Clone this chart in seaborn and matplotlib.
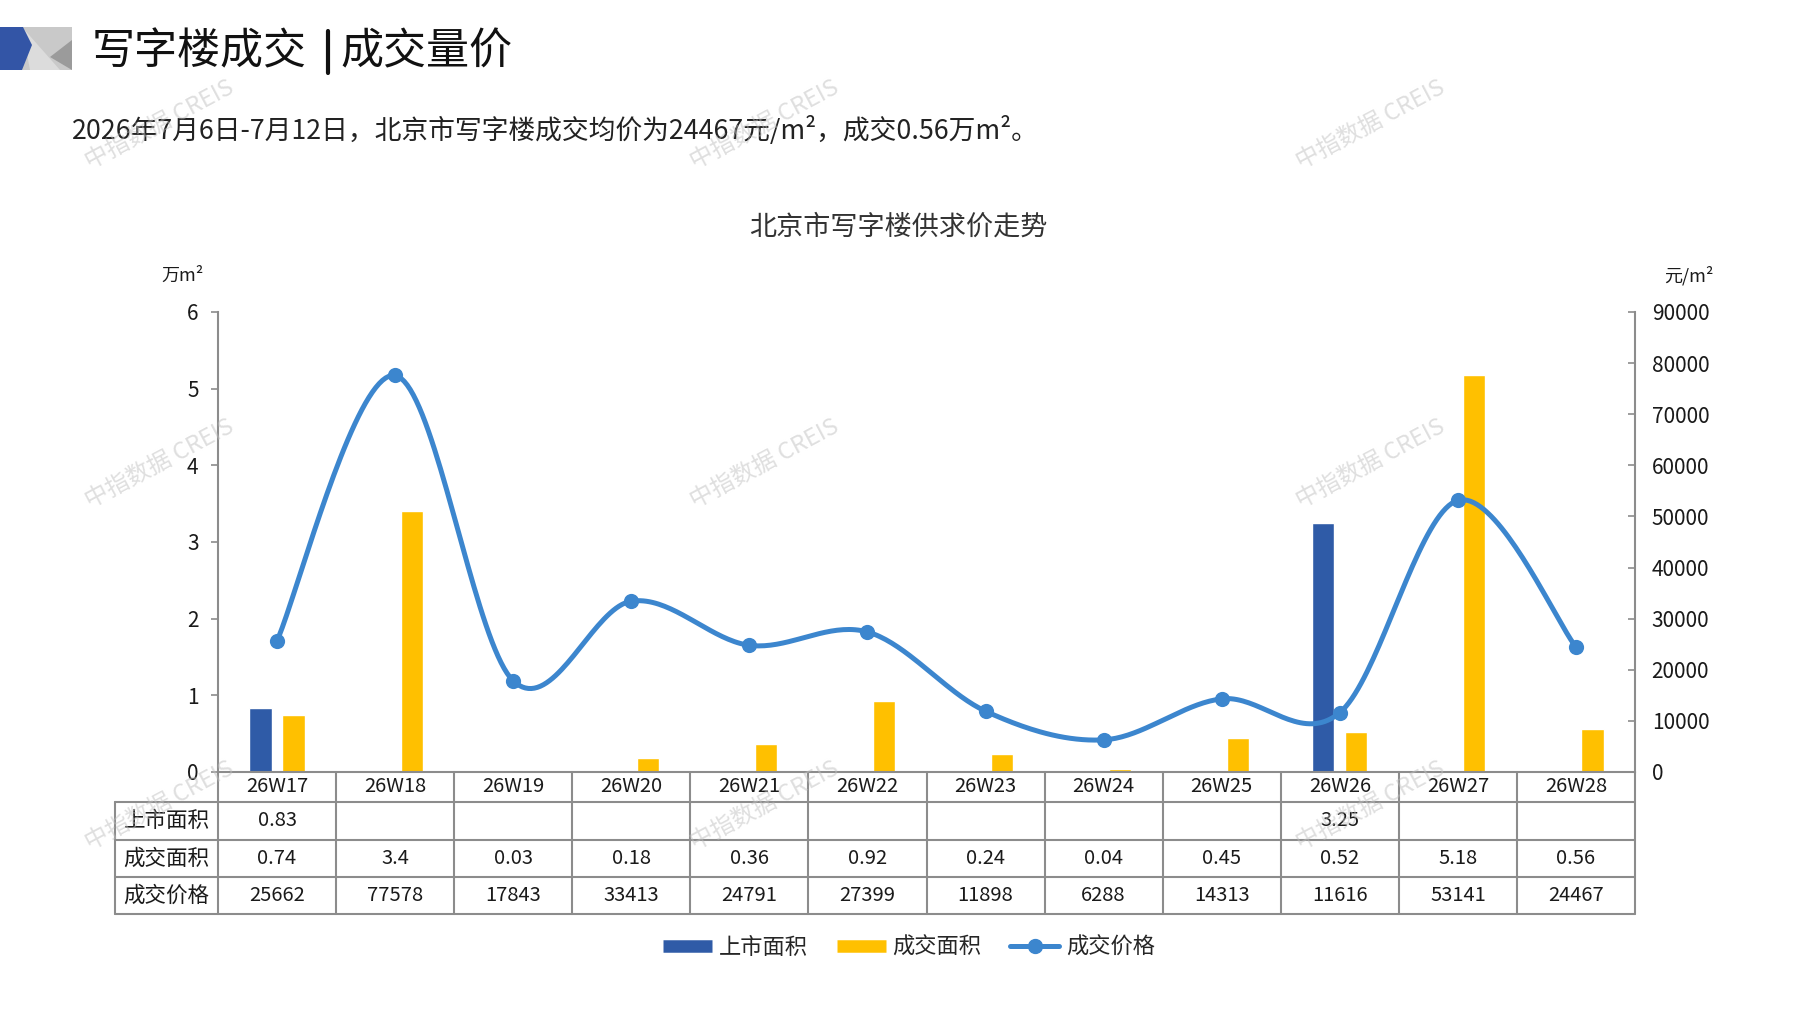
import numpy as np
import pandas as pd
import matplotlib
matplotlib.use("Agg")
import matplotlib.pyplot as plt
from matplotlib.lines import Line2D
from matplotlib.patches import Polygon
import matplotlib.transforms as mtransforms
import seaborn as sns

# ---------------- data ----------------
weeks = ["26W17", "26W18", "26W19", "26W20", "26W21", "26W22",
         "26W23", "26W24", "26W25", "26W26", "26W27", "26W28"]
listed_area = [0.83, None, None, None, None, None, None, None, None, 3.25, None, None]
deal_area = [0.74, 3.4, 0.03, 0.18, 0.36, 0.92, 0.24, 0.04, 0.45, 0.52, 5.18, 0.56]
deal_price = [25662, 77578, 17843, 33413, 24791, 27399, 11898, 6288, 14313, 11616, 53141, 24467]
series_names = ["上市面积", "成交面积", "成交价格"]
left_ticks = [0, 1, 2, 3, 4, 5, 6]
right_ticks = [0, 10000, 20000, 30000, 40000, 50000, 60000, 70000, 80000, 90000]

# ---------------- style ----------------
sns.set_style("white")
plt.rcParams["font.family"] = ["Noto Sans CJK SC", "DejaVu Sans"]

W, H = 1797, 1010
BLUE = "#2F5BA7"
YELLOW = "#FFC000"
LINE = "#3C86CE"
GRID = "#8C8C8C"
TXT = "#1A1A1A"

fig = plt.figure(figsize=(W / 100, H / 100), dpi=100)


def fx(x):
    return x / W


def fy(y):
    return 1 - y / H


# plot area in pixels
L, R, T, B = 218, 1635, 312, 772
ax = fig.add_axes([fx(L), fy(B), fx(R - L), (B - T) / H])

# ---------------- bars ----------------
rows = []
for w, a, d in zip(weeks, listed_area, deal_area):
    if a is not None:
        rows.append({"week": w, "series": series_names[0], "value": a})
    if d is not None:
        rows.append({"week": w, "series": series_names[1], "value": d})
bars = pd.DataFrame(rows)

sns.barplot(data=bars, x="week", y="value", hue="series", order=weeks,
            hue_order=series_names[:2], palette=[BLUE, YELLOW],
            width=0.56, gap=0.33, errorbar=None, legend=False, ax=ax,
            saturation=1)
ax.set_xlim(-0.5, len(weeks) - 0.5)
ax.set_ylim(0, 6)
ax.set_yticks(left_ticks)
ax.set_xlabel("")
ax.set_ylabel("")
ax.set_xticks([])
for s in ["top", "right"]:
    ax.spines[s].set_visible(False)
for s in ["left", "bottom"]:
    ax.spines[s].set_color(GRID)
    ax.spines[s].set_linewidth(1.5)
ax.tick_params(axis="y", direction="out", length=5, width=1.2, color=GRID,
               pad=9, labelsize=15, labelcolor=TXT)

# ---------------- smoothed price line ----------------
def excel_smooth(vals, n=40):
    pts = np.column_stack([np.arange(len(vals)), np.asarray(vals, float)])
    out = []
    for i in range(len(pts) - 1):
        p0 = pts[max(i - 1, 0)]
        p1 = pts[i]
        p2 = pts[i + 1]
        p3 = pts[min(i + 2, len(pts) - 1)]
        c1 = p1 + (p2 - p0) / 6
        c2 = p2 - (p3 - p1) / 6
        t = np.linspace(0, 1, n)[:, None]
        seg = (1 - t) ** 3 * p1 + 3 * (1 - t) ** 2 * t * c1 + 3 * (1 - t) * t ** 2 * c2 + t ** 3 * p2
        out.append(seg if i == 0 else seg[1:])
    return np.vstack(out)


ax2 = ax.twinx()
curve = excel_smooth(deal_price)
sns.lineplot(x=curve[:, 0], y=curve[:, 1], sort=False, color=LINE, lw=3.6,
             ax=ax2, legend=False)
sns.scatterplot(x=np.arange(len(weeks)), y=deal_price, color=LINE, s=120,
                edgecolor=LINE, linewidth=0, ax=ax2, legend=False, zorder=5)
ax2.set_ylim(0, 90000)
ax2.set_yticks(right_ticks)
ax2.set_xlim(-0.5, len(weeks) - 0.5)
ax2.set_ylabel("")
for s in ["top", "left", "bottom"]:
    ax2.spines[s].set_visible(False)
ax2.spines["right"].set_color(GRID)
ax2.spines["right"].set_linewidth(1.5)
ax2.tick_params(axis="y", direction="in", length=5, width=1.2, color=GRID,
                pad=12, labelsize=15, labelcolor=TXT)

# ---------------- data table ----------------
blend = mtransforms.blended_transform_factory(ax.transData, fig.transFigure)
TL = 115                 # table left edge (pixels)
row_y = [B, 802, 840, 877, 914]
lw_t = 1.5

# horizontal lines
for y in row_y[1:]:
    fig.add_artist(Line2D([fx(TL), fx(R)], [fy(y), fy(y)], color=GRID, lw=lw_t))
# left border of the row header column
fig.add_artist(Line2D([fx(TL), fx(TL)], [fy(row_y[1]), fy(row_y[-1])], color=GRID, lw=lw_t))
# vertical column separators
for i in range(len(weeks) + 1):
    xd = i - 0.5
    fig.add_artist(Line2D([xd, xd], [fy(B), fy(row_y[-1])], color=GRID, lw=lw_t,
                          transform=blend))


def fmt(v):
    if v is None:
        return ""
    if isinstance(v, float):
        return f"{v:g}"
    return str(v)


table_rows = [weeks,
              [fmt(v) for v in listed_area],
              [fmt(v) for v in deal_area],
              [str(v) for v in deal_price]]
for r, vals in enumerate(table_rows):
    yc = (row_y[r] + row_y[r + 1]) / 2
    for i, t in enumerate(vals):
        fig.text(i, fy(yc), t, transform=blend, ha="center", va="center",
                 fontsize=14.5, color=TXT)
    if r > 0:
        fig.text(fx((TL + L) / 2), fy(yc), series_names[r - 1],
                 ha="center", va="center", fontsize=15.5, color=TXT)

# ---------------- axis unit labels ----------------
fig.text(fx(183), fy(276), "万m²", ha="center", va="center", fontsize=13, color=TXT)
fig.text(fx(1689), fy(276), "元/m²", ha="center", va="center", fontsize=13, color=TXT)

# ---------------- titles ----------------
fig.text(fx(898), fy(227), "北京市写字楼供求价走势", ha="center", va="center",
         fontsize=19.5, color="#333333")
fig.text(fx(92), fy(52), "写字楼成交", ha="left", va="center", fontsize=31, color="#111111")
fig.add_artist(Line2D([fx(328), fx(328)], [fy(31), fy(73)], color="#111111", lw=3))
fig.text(fx(340), fy(52), "成交量价", ha="left", va="center", fontsize=31, color="#111111")
fig.text(fx(72), fy(131),
         "2026年7月6日-7月12日，北京市写字楼成交均价为24467元/m²，成交0.56万m²。",
         ha="left", va="center", fontsize=19.3, color="#222222")

# logo
logo = [
    ([(0, 27), (72, 27), (72, 70), (0, 70)], "#C9C9C9"),
    ([(22, 27), (60, 70), (30, 70)], "#DCDCDC"),
    ([(72, 40), (72, 70), (50, 57)], "#9B9B9B"),
    ([(0, 27), (23, 27), (32, 45), (22, 70), (0, 70)], "#3355A6"),
]
for pts, c in logo:
    fig.add_artist(Polygon([(fx(x), fy(y)) for x, y in pts], closed=True,
                           facecolor=c, edgecolor="none", transform=fig.transFigure))

# ---------------- legend ----------------
handles = [
    Line2D([], [], color=BLUE, lw=9, solid_capstyle="butt"),
    Line2D([], [], color=YELLOW, lw=9, solid_capstyle="butt"),
    Line2D([], [], color=LINE, lw=3.6, marker="o", markersize=10),
]
fig.legend(handles, series_names, loc="center", bbox_to_anchor=(fx(909), fy(947)),
           ncol=3, frameon=False, fontsize=16, handlelength=2.2, handletextpad=0.3,
           columnspacing=1.3)

# ---------------- watermarks ----------------
for wy in [125, 464, 806]:
    for wx in [160, 765, 1371]:
        fig.text(fx(wx), fy(wy), "中指数据 CREIS", ha="center", va="center",
                 rotation=28, fontsize=17, color="#BFBFBF", alpha=0.5, zorder=20)

fig.savefig("out.png", dpi=100)
